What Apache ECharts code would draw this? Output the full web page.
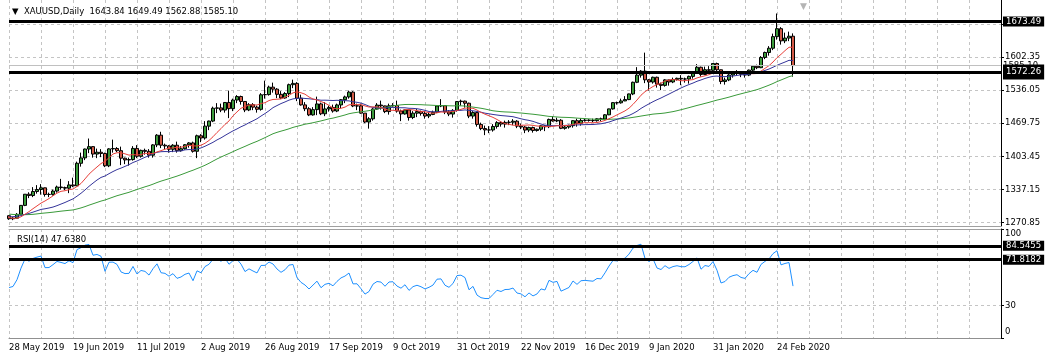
<!DOCTYPE html>
<html><head><meta charset="utf-8">
<script src="https://cdn.jsdelivr.net/npm/echarts@6/dist/echarts.min.js"></script>
<style>html,body{margin:0;padding:0;background:#fff}#c{width:1054px;height:360px}</style>
</head><body><div id="c"></div>
<script>
const symbolName = 'XAUUSD,Daily';
const dates = ['28 May 2019','29 May 2019','30 May 2019','31 May 2019',
'3 Jun 2019','4 Jun 2019','5 Jun 2019','6 Jun 2019','7 Jun 2019','10 Jun 2019','11 Jun 2019','12 Jun 2019','13 Jun 2019','14 Jun 2019','17 Jun 2019','18 Jun 2019','19 Jun 2019','20 Jun 2019','21 Jun 2019','24 Jun 2019','25 Jun 2019','26 Jun 2019','27 Jun 2019','28 Jun 2019',
'1 Jul 2019','2 Jul 2019','3 Jul 2019','4 Jul 2019','5 Jul 2019','8 Jul 2019','9 Jul 2019','10 Jul 2019','11 Jul 2019','12 Jul 2019','15 Jul 2019','16 Jul 2019','17 Jul 2019','18 Jul 2019','19 Jul 2019','22 Jul 2019','23 Jul 2019','24 Jul 2019','25 Jul 2019','26 Jul 2019','29 Jul 2019','30 Jul 2019','31 Jul 2019',
'1 Aug 2019','2 Aug 2019','5 Aug 2019','6 Aug 2019','7 Aug 2019','8 Aug 2019','9 Aug 2019','12 Aug 2019','13 Aug 2019','14 Aug 2019','15 Aug 2019','16 Aug 2019','19 Aug 2019','20 Aug 2019','21 Aug 2019','22 Aug 2019','23 Aug 2019','26 Aug 2019','27 Aug 2019','28 Aug 2019','29 Aug 2019','30 Aug 2019',
'2 Sep 2019','3 Sep 2019','4 Sep 2019','5 Sep 2019','6 Sep 2019','9 Sep 2019','10 Sep 2019','11 Sep 2019','12 Sep 2019','13 Sep 2019','16 Sep 2019','17 Sep 2019','18 Sep 2019','19 Sep 2019','20 Sep 2019','23 Sep 2019','24 Sep 2019','25 Sep 2019','26 Sep 2019','27 Sep 2019','30 Sep 2019',
'1 Oct 2019','2 Oct 2019','3 Oct 2019','4 Oct 2019','7 Oct 2019','8 Oct 2019','9 Oct 2019','10 Oct 2019','11 Oct 2019','14 Oct 2019','15 Oct 2019','16 Oct 2019','17 Oct 2019','18 Oct 2019','21 Oct 2019','22 Oct 2019','23 Oct 2019','24 Oct 2019','25 Oct 2019','28 Oct 2019','29 Oct 2019','30 Oct 2019','31 Oct 2019',
'1 Nov 2019','4 Nov 2019','5 Nov 2019','6 Nov 2019','7 Nov 2019','8 Nov 2019','11 Nov 2019','12 Nov 2019','13 Nov 2019','14 Nov 2019','15 Nov 2019','18 Nov 2019','19 Nov 2019','20 Nov 2019','21 Nov 2019','22 Nov 2019','25 Nov 2019','26 Nov 2019','27 Nov 2019','28 Nov 2019','29 Nov 2019',
'2 Dec 2019','3 Dec 2019','4 Dec 2019','5 Dec 2019','6 Dec 2019','9 Dec 2019','10 Dec 2019','11 Dec 2019','12 Dec 2019','13 Dec 2019','16 Dec 2019','17 Dec 2019','18 Dec 2019','19 Dec 2019','20 Dec 2019','23 Dec 2019','24 Dec 2019','26 Dec 2019','27 Dec 2019','30 Dec 2019','31 Dec 2019',
'2 Jan 2020','3 Jan 2020','6 Jan 2020','7 Jan 2020','8 Jan 2020','9 Jan 2020','10 Jan 2020','13 Jan 2020','14 Jan 2020','15 Jan 2020','16 Jan 2020','17 Jan 2020','20 Jan 2020','21 Jan 2020','22 Jan 2020','23 Jan 2020','24 Jan 2020','27 Jan 2020','28 Jan 2020','29 Jan 2020','30 Jan 2020','31 Jan 2020',
'3 Feb 2020','4 Feb 2020','5 Feb 2020','6 Feb 2020','7 Feb 2020','10 Feb 2020','11 Feb 2020','12 Feb 2020','13 Feb 2020','14 Feb 2020','17 Feb 2020','18 Feb 2020','19 Feb 2020','20 Feb 2020','21 Feb 2020','24 Feb 2020','25 Feb 2020','26 Feb 2020','27 Feb 2020','28 Feb 2020'];

const open = [1284.8,
1278.7,1279.9,1287.6,1305.5,1327.8,1325.2,1333.2,1337.2,1340.6,1327.3,
1327.5,1334.1,1342.2,1341.1,1339.9,1346.4,1344.5,1389.7,1400.5,1418.2,
1423.0,1408.1,1411.8,1409.3,1384.6,1418.5,1419.2,1414.9,1399.9,1396.4,
1397.1,1419.4,1403.7,1415.5,1413.6,1405.9,1426.5,1445.9,1425.9,1424.4,
1417.7,1425.8,1414.9,1418.8,1426.7,1430.4,1413.7,1444.7,1440.3,1464.0,
1474.1,1499.8,1500.5,1496.1,1511.3,1499.0,1516.2,1523.2,1513.3,1496.3,
1507.0,1502.0,1497.6,1526.7,1527.1,1542.0,1538.0,1527.6,1520.3,1529.2,
1546.9,1549.5,1519.8,1506.5,1498.8,1486.4,1497.0,1508.4,1488.7,1498.4,
1501.4,1494.2,1506.4,1516.8,1522.4,1532.0,1504.3,1504.6,1490.0,1472.2,
1478.6,1498.2,1506.1,1504.5,1493.1,1504.6,1505.2,1494.1,1488.4,1496.4,
1481.2,1489.9,1493.1,1489.5,1484.2,1487.4,1491.8,1504.3,1505.0,1492.5,
1488.1,1495.5,1513.1,1514.0,1509.8,1484.1,1491.1,1467.5,1459.1,1456.4,
1456.3,1463.3,1471.0,1468.1,1471.5,1471.8,1473.9,1464.0,1462.2,1456.1,
1461.3,1455.2,1457.8,1464.6,1462.8,1477.4,1474.3,1475.8,1459.6,1462.2,
1464.9,1474.9,1469.6,1475.4,1476.0,1475.4,1474.9,1478.6,1478.2,1486.6,
1498.5,1511.0,1510.6,1514.4,1517.1,1528.4,1551.7,1566.0,1574.0,1556.6,
1552.2,1561.7,1547.9,1545.5,1556.5,1552.3,1557.3,1559.6,1558.3,1558.2,
1563.5,1571.3,1581.7,1567.3,1576.8,1575.6,1589.2,1576.7,1553.2,1556.4,
1566.2,1570.2,1572.3,1567.7,1566.1,1576.0,1583.8,1580.9,1601.4,1611.3,
1619.8,1643.0,1658.9,1634.5,1640.1,1643.84];

const high = [1285.6,1282.0,1290.0,1306.0,1328.0,1331.7,1342.0,1346.0,1348.0,1341.0,
1331.0,1337.0,1345.0,1358.5,1343.0,1354.0,1361.0,1393.0,1411.0,1419.0,
1439.2,1424.0,1419.0,1418.0,1411.0,1420.0,1437.0,1422.0,1423.0,1401.0,
1401.0,1424.0,1426.0,1417.0,1419.0,1418.0,1428.0,1448.0,1452.7,1429.0,
1426.0,1428.0,1433.0,1424.0,1428.0,1432.0,1433.0,1447.0,1448.0,1474.0,
1475.0,1503.0,1510.0,1509.0,1512.0,1535.0,1519.0,1526.0,1525.0,1514.0,
1510.0,1510.0,1505.0,1530.0,1555.0,1545.0,1551.0,1540.0,1534.0,1532.0,
1549.0,1557.0,1552.0,1527.0,1512.0,1502.0,1502.0,1523.0,1511.0,1512.0,
1505.0,1507.0,1509.0,1518.0,1525.0,1535.0,1534.0,1509.0,1509.0,1490.0,
1482.0,1500.0,1510.0,1515.0,1505.0,1509.0,1510.0,1515.0,1497.0,1497.0,
1497.0,1494.0,1498.0,1495.0,1494.0,1491.0,1495.0,1505.0,1518.0,1506.0,
1496.0,1498.0,1514.0,1517.0,1515.0,1511.0,1494.0,1493.0,1471.0,1465.0,
1464.0,1468.0,1474.0,1474.0,1475.0,1476.0,1478.0,1476.0,1469.0,1464.0,
1463.0,1463.0,1459.0,1466.0,1465.0,1479.0,1484.0,1481.0,1478.0,1465.0,
1467.0,1476.0,1479.0,1480.0,1479.0,1478.0,1479.0,1480.0,1481.0,1488.0,
1499.0,1512.0,1513.0,1519.0,1524.0,1529.0,1553.0,1582.0,1576.0,1611.0,
1558.0,1563.0,1563.0,1551.0,1558.0,1557.0,1561.0,1561.0,1566.0,1561.0,
1565.0,1573.0,1588.0,1583.0,1583.0,1584.0,1590.0,1591.0,1577.0,1561.0,
1568.0,1574.0,1576.0,1573.0,1569.0,1577.0,1585.0,1587.0,1604.0,1613.0,
1624.0,1649.0,1689.3,1662.0,1651.0,1653.0,1649.49];

const low = [1276.6,1276.0,1279.0,1287.0,1304.0,1320.0,1322.0,1329.0,1327.0,1323.0,
1322.0,1325.0,1331.0,1337.0,1336.0,1330.0,1342.0,1344.0,1383.0,1396.0,
1410.0,1401.0,1400.0,1402.0,1382.0,1382.0,1411.0,1412.0,1386.0,1388.0,
1385.0,1395.0,1400.0,1401.0,1407.0,1401.0,1401.0,1422.0,1420.0,1418.0,
1411.0,1412.0,1411.0,1413.0,1417.0,1421.0,1411.0,1400.0,1432.0,1437.0,
1456.0,1472.0,1490.0,1492.0,1491.0,1480.0,1494.0,1510.0,1507.0,1492.0,
1494.0,1496.0,1491.0,1495.0,1519.0,1525.0,1531.0,1520.0,1518.0,1519.0,
1522.0,1540.0,1514.0,1505.0,1494.0,1484.0,1485.0,1486.0,1486.0,1484.0,
1493.0,1491.0,1492.0,1500.0,1510.0,1519.0,1502.0,1496.0,1489.0,1470.0,
1459.0,1475.0,1497.0,1497.0,1490.0,1487.0,1503.0,1491.0,1474.0,1487.0,
1475.0,1478.0,1482.0,1485.0,1479.0,1480.0,1486.0,1490.0,1502.0,1488.0,
1484.0,1481.0,1493.0,1505.0,1501.0,1480.0,1479.0,1463.0,1456.0,1446.0,
1450.0,1453.0,1459.0,1463.0,1461.0,1466.0,1466.0,1460.0,1458.0,1450.0,
1452.0,1451.0,1453.0,1454.0,1454.0,1460.0,1473.0,1472.0,1458.0,1457.0,
1459.0,1461.0,1463.0,1465.0,1473.0,1473.0,1472.0,1473.0,1474.0,1477.0,
1486.0,1497.0,1507.0,1509.0,1514.0,1516.0,1526.0,1550.0,1561.0,1550.0,
1535.0,1549.0,1541.0,1536.0,1543.0,1545.0,1550.0,1555.0,1546.0,1551.0,
1549.0,1559.0,1570.0,1563.0,1566.0,1569.0,1570.0,1573.0,1548.0,1547.0,
1554.0,1561.0,1566.0,1562.0,1561.0,1564.0,1572.0,1578.0,1580.0,1598.0,
1605.0,1616.0,1637.0,1627.0,1630.0,1634.0,1562.88];

const close = [1278.7,1279.9,1287.6,1305.5,1327.8,1325.2,1333.2,1337.2,1340.6,1327.3,
1327.5,1334.1,1342.2,1341.1,1339.9,1346.4,1344.5,1389.7,1400.5,1418.2,
1423.0,1408.1,1411.8,1409.3,1384.6,1418.5,1419.2,1414.9,1399.9,1396.4,
1397.1,1419.4,1403.7,1415.5,1413.6,1405.9,1426.5,1445.9,1425.9,1424.4,
1417.7,1425.8,1414.9,1418.8,1426.7,1430.4,1413.7,1444.7,1440.3,1464.0,
1474.1,1499.8,1500.5,1496.1,1511.3,1499.0,1516.2,1523.2,1513.3,1496.3,
1507.0,1502.0,1497.6,1526.7,1527.1,1542.0,1538.0,1527.6,1520.3,1529.2,
1546.9,1549.5,1519.8,1506.5,1498.8,1486.4,1497.0,1508.4,1488.7,1498.4,
1501.4,1494.2,1506.4,1516.8,1522.4,1532.0,1504.3,1504.6,1490.0,1472.2,
1478.6,1498.2,1506.1,1504.5,1493.1,1504.6,1505.2,1494.1,1488.4,1496.4,
1481.2,1489.9,1493.1,1489.5,1484.2,1487.4,1491.8,1504.3,1505.0,1492.5,
1488.1,1495.5,1513.1,1514.0,1509.8,1484.1,1491.1,1467.5,1459.1,1456.4,
1456.3,1463.3,1471.0,1468.1,1471.5,1471.8,1473.9,1464.0,1462.2,1456.1,
1461.3,1455.2,1457.8,1464.6,1462.8,1477.4,1474.3,1475.8,1459.6,1462.2,
1464.9,1474.9,1469.6,1475.4,1476.0,1475.4,1474.9,1478.6,1478.2,1486.6,
1498.5,1511.0,1510.6,1514.4,1517.1,1528.4,1551.7,1566.0,1574.0,1556.6,
1552.2,1561.7,1547.9,1545.5,1556.5,1552.3,1557.3,1559.6,1558.3,1558.2,
1563.5,1571.3,1581.7,1567.3,1576.8,1575.6,1589.2,1576.7,1553.2,1556.4,
1566.2,1570.2,1572.3,1567.7,1566.1,1576.0,1583.8,1580.9,1601.4,1611.3,
1619.8,1643.0,1658.9,1634.5,1640.1,1643.84,1585.10];

// closes before the first visible bar (needed by the moving averages and RSI)
const priorCloses = [1293,1286,1287,1286,1286,1298,1292,1298,1309,1295,1302,1301,1306,1313,1308,
1313,1322,1315,1310,1291,1292,1287,1290,1291,1291,1291,1298,1303,1307,1293,1295,1288,1276,1274,1275,
1275,1277,1272,1276,1276,1286,1281,1284,1273,1271,1279,1281,1285,1281,1284,1286,1301,1296,1297,1286,
1277,1277,1273,1274,1282,1284,1285];

const maPeriods = [10, 20, 50];
const maColors = ['#e8413b', '#34349a', '#3a9a3a'];
const rsiPeriod = 14;
const rsiReadout = 47.6380;

const priceTicks = [1270.85, 1337.15, 1403.45, 1469.75, 1536.05, 1602.35, 1668.65];
const priceLevels = [1673.49, 1572.26];
const bidPrice = 1585.10;
const rsiTicks = [0, 30, 100];
const rsiLevels = [84.5455, 71.8182];

const FONT = 'DejaVu Sans';
const FS = 8.5;
const SLOTS = 249;

const allCloses = priorCloses.concat(close);
const off = priorCloses.length;
function sma(n) {
  return close.map((_, i) => {
    const j = i + off;
    if (j < n - 1) return null;
    let s = 0;
    for (let k = j - n + 1; k <= j; k++) s += allCloses[k];
    return +(s / n).toFixed(2);
  });
}
function rsi(n) {
  const out = new Array(allCloses.length).fill(null);
  let g = 0, l = 0;
  for (let i = 1; i <= n; i++) {
    const d = allCloses[i] - allCloses[i - 1];
    if (d > 0) g += d; else l -= d;
  }
  g /= n; l /= n;
  out[n] = l === 0 ? 100 : 100 - 100 / (1 + g / l);
  for (let i = n + 1; i < allCloses.length; i++) {
    const d = allCloses[i] - allCloses[i - 1];
    g = (g * (n - 1) + (d > 0 ? d : 0)) / n;
    l = (l * (n - 1) + (d < 0 ? -d : 0)) / n;
    out[i] = l === 0 ? 100 : 100 - 100 / (1 + g / l);
  }
  return out.slice(off).map(v => v == null ? null : +v.toFixed(4));
}

const cats = [];
for (let i = 0; i < SLOTS; i++) cats.push(i < dates.length ? dates[i] : 'slot' + i);

const candles = dates.map((_, i) => [open[i], close[i], low[i], high[i]]);
const last = dates.length - 1;
const titleText = '▼  ' + symbolName + '  ' + [open[last], high[last], low[last], close[last]].map(v => v.toFixed(2)).join(' ');

const dash = { type: [3, 3], color: '#c4c4c4', width: 1 };
const vSplit = { show: true, interval: (i) => i % 8 === 0, lineStyle: dash };
const txt = { fontFamily: FONT, fontSize: FS, color: '#000' };

const levelLine = (v, digits, pad) => ({
  yAxis: v,
  lineStyle: { color: '#000', width: 3, type: 'solid' },
  label: {
    show: true, position: 'end', distance: 2,
    formatter: () => v.toFixed(digits),
    backgroundColor: '#000', color: '#fff', padding: pad || [1, 3, 0, 3],
    fontFamily: FONT, fontSize: FS
  }
});

const option = {
  animation: false,
  backgroundColor: '#fff',
  title: [
    { text: titleText, left: 7, top: 2, textStyle: Object.assign({ fontWeight: 'normal' }, txt) },
    { text: 'RSI(' + rsiPeriod + ') ' + rsiReadout.toFixed(4), left: 12, top: 230, textStyle: Object.assign({ fontWeight: 'normal' }, txt) },
    { text: '▼', left: 795, top: -3, textStyle: { fontFamily: FONT, fontSize: 9, color: '#b4b4b4', fontWeight: 'normal' } }
  ],
  grid: [
    { left: 9, right: 53, top: 0, height: 226 },
    { left: 9, right: 53, top: 229, height: 109 }
  ],
  xAxis: [
    { type: 'category', gridIndex: 0, data: cats, boundaryGap: false,
      axisLine: { show: true, lineStyle: { color: '#a0a0a0' } }, axisTick: { show: false }, axisLabel: { show: false },
      splitLine: vSplit },
    { type: 'category', gridIndex: 1, data: cats, boundaryGap: false,
      axisLine: { show: true, lineStyle: { color: '#909090' } },
      axisTick: { show: false },
      axisLabel: Object.assign({ show: true, interval: (i) => i % 16 === 0, align: 'left', margin: 5,
        formatter: (v, i) => (i < dates.length ? v : '') }, txt),
      splitLine: vSplit },
    { type: 'category', gridIndex: 1, data: cats, boundaryGap: false, position: 'top',
      axisLine: { show: true, lineStyle: { color: '#a0a0a0' } }, axisTick: { show: false }, axisLabel: { show: false },
      splitLine: { show: false } }
  ],
  yAxis: [
    { type: 'value', gridIndex: 0, position: 'right', min: 1264.25, max: 1716.25, scale: true,
      axisLine: { show: true, lineStyle: { color: '#000' } },
      axisTick: { show: true, length: 3, customValues: priceTicks, lineStyle: { color: '#000' } },
      axisLabel: Object.assign({ customValues: priceTicks, margin: 4, formatter: (v) => v.toFixed(2) }, txt),
      splitLine: { show: true, lineStyle: dash } },
    { type: 'value', gridIndex: 1, position: 'right', min: 0, max: 100,
      axisLine: { show: true, lineStyle: { color: '#000' } },
      axisTick: { show: true, length: 3, customValues: rsiTicks, lineStyle: { color: '#000' } },
      axisLabel: Object.assign({ customValues: rsiTicks, margin: 4,
        formatter: (v) => v === 100 ? '{top|100}' : (v === 0 ? '{bot|0}' : '' + v),
        rich: { top: { padding: [9, 0, 0, 0], fontFamily: FONT, fontSize: FS, color: '#000' },
                bot: { padding: [0, 0, 13, 0], fontFamily: FONT, fontSize: FS, color: '#000' } } }, txt),
      splitLine: { show: true, lineStyle: dash } }
  ],
  series: [
    { type: 'candlestick', xAxisIndex: 0, yAxisIndex: 0, data: candles, barWidth: 3,
      itemStyle: { color: '#3c9c3c', color0: '#d25a46', borderColor: '#000', borderColor0: '#000', borderWidth: 1 },
      markLine: { silent: true, symbol: ['none', 'none'], animation: false,
        data: [
          { yAxis: bidPrice, lineStyle: { color: '#c0c0c0', width: 1, type: 'solid' },
            label: { show: true, position: 'end', distance: 2, formatter: () => bidPrice.toFixed(2), color: '#000', fontFamily: FONT, fontSize: FS } },
          levelLine(priceLevels[0], 2),
          levelLine(priceLevels[1], 2, [5, 3, 1, 3])
        ]
      } },
    ...maPeriods.map((n, k) => ({
      type: 'line', xAxisIndex: 0, yAxisIndex: 0, data: sma(n), showSymbol: false, symbol: 'none',
      lineStyle: { color: maColors[k], width: 1 }, z: 3 - k * 0.1
    })),
    { type: 'line', xAxisIndex: 1, yAxisIndex: 1, data: rsi(rsiPeriod), showSymbol: false, symbol: 'none',
      lineStyle: { color: '#1e90ff', width: 1 },
      markLine: { silent: true, symbol: ['none', 'none'], animation: false,
        data: rsiLevels.map(v => levelLine(v, 4)) } }
  ]
};
echarts.init(document.getElementById('c'), null, { renderer: 'canvas' }).setOption(option);
</script></body></html>
